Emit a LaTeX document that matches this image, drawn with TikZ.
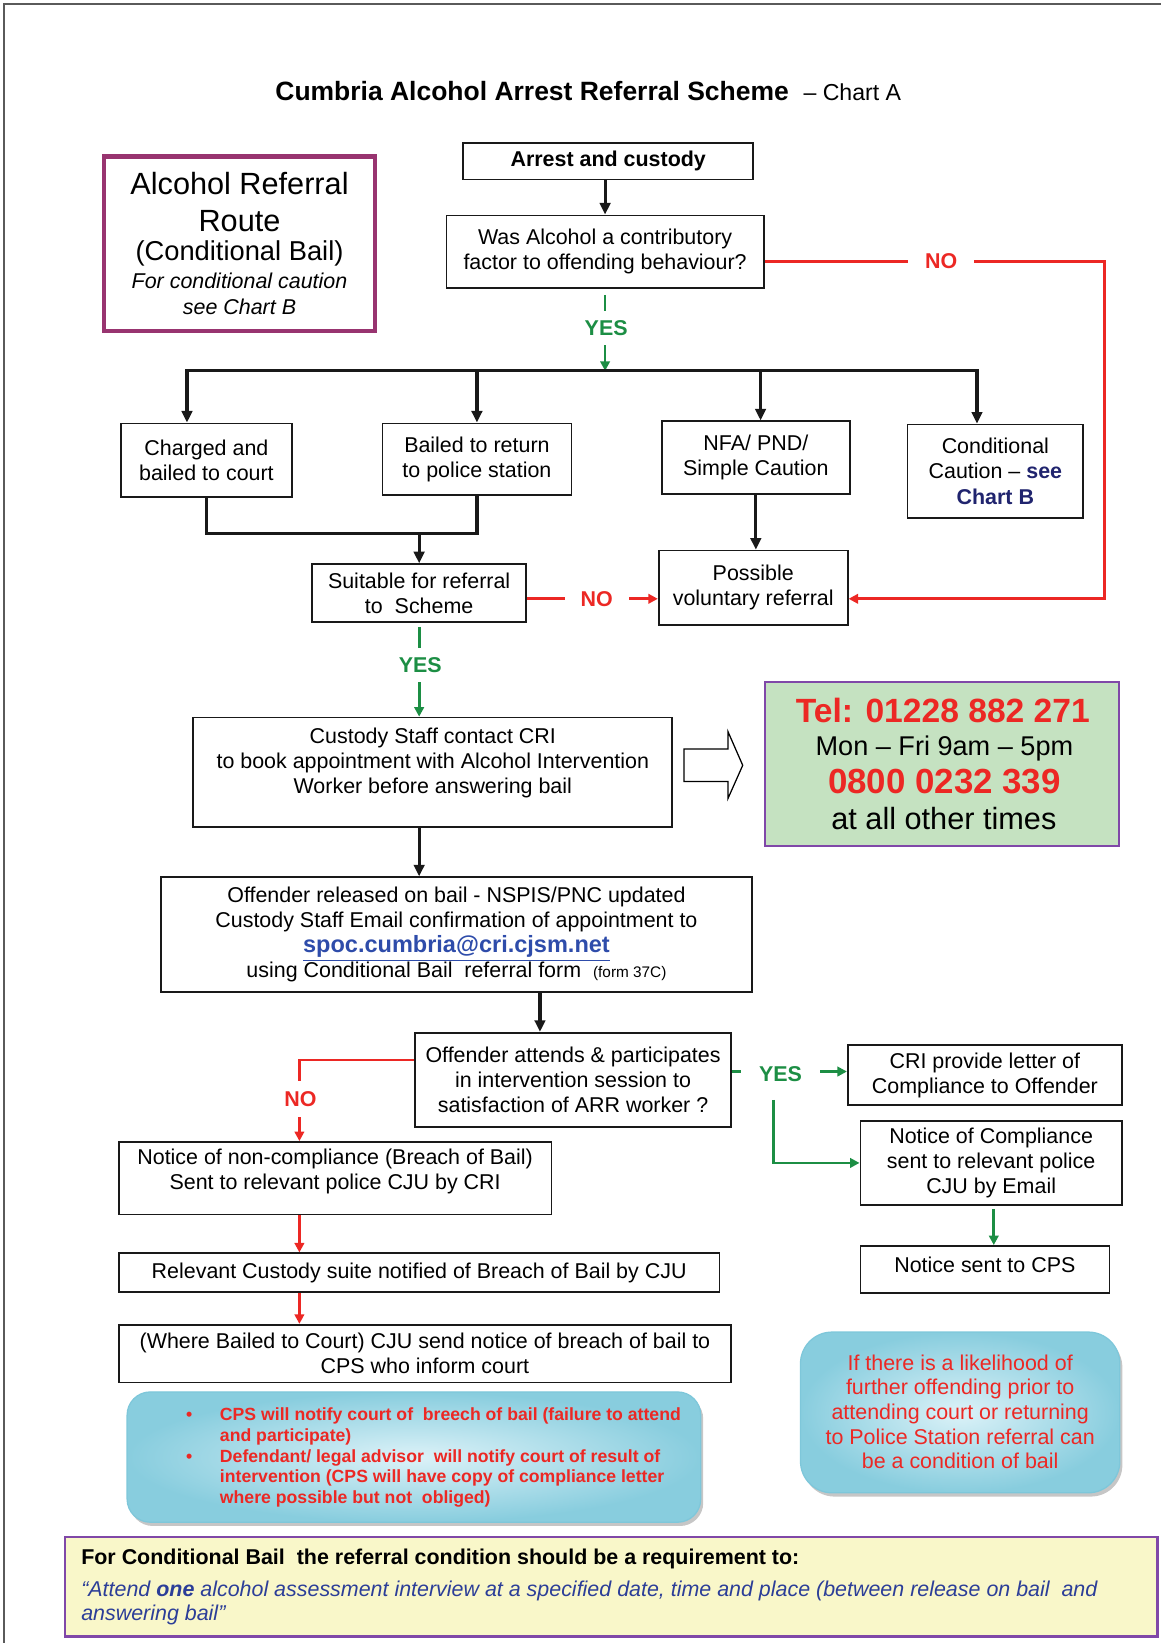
\documentclass[tikz,border=0pt]{standalone}
\usepackage{fontspec}
\setmainfont{Liberation Sans}
\usetikzlibrary{arrows.meta,calc,shadows}
\definecolor{rd}{RGB}{236,40,36}
\definecolor{gr}{RGB}{28,142,68}
\definecolor{plum}{RGB}{152,52,112}
\definecolor{vio}{RGB}{128,72,168}
\definecolor{telg}{RGB}{197,226,193}
\definecolor{ylw}{RGB}{249,247,201}
\definecolor{navy}{RGB}{32,36,110}
\definecolor{lnk}{RGB}{46,76,170}
\definecolor{itb}{RGB}{44,62,152}
\definecolor{cyA}{RGB}{220,242,248}
\definecolor{cyB}{RGB}{136,205,222}
\definecolor{cyD}{RGB}{126,199,218}
\definecolor{frm}{RGB}{90,90,90}
\newcommand\fsz[2]{\fontsize{#1}{#2}\selectfont}
\tikzset{
  bx/.style 2 args={draw=black!90, line width=0.8pt, minimum width=#1*0.5pt, minimum height=#2*0.5pt, inner sep=0pt, align=center, font=\fsz{10.2}{12}},
  txt/.style={inner sep=0pt, align=center, font=\fsz{10.2}{12}},
  conn/.style={line width=1.5pt, black!90},
  arr/.style={conn, -{Triangle[length=5.5pt,width=5pt]}},
  rline/.style={line width=1.4pt, rd},
  rarr/.style={rline, -{Triangle[length=4.5pt,width=4.5pt]}},
  gline/.style={line width=1.3pt, gr},
  garr/.style={gline, -{Triangle[length=4.5pt,width=4.5pt]}},
  lab/.style={inner sep=0pt, fill=white, font=\bfseries\fsz{10.2}{12}},
  bluebox/.style={draw=cyD, line width=0.6pt, inner sep=0pt, inner color=cyA, outer color=cyB, drop shadow={shadow xshift=1.2pt, shadow yshift=-1.8pt, opacity=0.45}},
  redline/.style={anchor=base west, inner sep=0pt, text=rd, font=\bfseries\fsz{8.4}{10}},
}
\begin{document}
\begin{tikzpicture}[x=0.5pt,y=-0.5pt]
\useasboundingbox (0,0) rectangle (1105,1564);
\draw[line width=1pt, frm] (4,1564) -- (4,4) -- (1105,4);

% title
\node[inner sep=0pt, anchor=base] (title) at (560,96) {\fsz{12.6}{15}\bfseries Cumbria Alcohol Arrest Referral Scheme\hspace{7pt}\mdseries\fsz{11}{13}– Chart A};

% route box
\node[bx={258}{166}, draw=plum, line width=2pt] (route) at (228,232) {};
\node[txt, anchor=base, font=\fsz{14.6}{17}] (rt1) at (228,185) {Alcohol Referral};
\node[txt, anchor=base, font=\fsz{14.6}{17}] (rt2) at (228,220) {Route};
\node[txt, anchor=base, font=\fsz{13}{15}] (rt3) at (228,248) {(Conditional Bail)};
\node[txt, anchor=base, font=\itshape\fsz{10.2}{12}] (rt4) at (228,275) {For conditional caution};
\node[txt, anchor=base, font=\itshape\fsz{10.2}{12}] (rt5) at (228,299) {see Chart B};

% main boxes
\node[bx={276}{35}, font=\bfseries\fsz{10.2}{12}] (arrest) at (579,153.5) {Arrest and custody};
\node[bx={302}{69}] (q) at (576,239.5) {Was Alcohol a contributory\\factor to offending behaviour?};
\coordinate (busL) at (178,353);
\coordinate (bus2) at (454,353);
\coordinate (busM) at (576,353);
\coordinate (bus3) at (724,353);
\coordinate (busR) at (930,353);
\coordinate (rc) at (1051,570);
\coordinate (jn) at (399,508);
\coordinate (x514) at (514,0);
\coordinate (x285) at (285,0);
\coordinate (ybr) at (736,1047);
\node[bx={163}{70}] (charged) at (196.5,438) {Charged and\\bailed to court};
\node[bx={180}{68}] (bailed) at (454,437) {Bailed to return\\to police station};
\node[bx={179}{69}] (nfa) at (719.5,435.5) {NFA/ PND/\\Simple Caution};
\node[bx={167}{89}] (cc) at (947.5,448.5) {Conditional\\Caution – {\bfseries\color{navy}see}\\{\bfseries\color{navy}Chart B}};
\node[bx={204}{55}] (suit) at (399,564.5) {Suitable for referral\\to\ \ Scheme};
\node[bx={180}{71}] (poss) at (717,559.5) {Possible\\voluntary referral};
\node[bx={456}{104}] (cust) at (412,735) {};
\node[txt] (custT) at (412,726) {Custody Staff contact CRI\\to book appointment with Alcohol Intervention\\Worker before answering bail};

% tel box
\node[bx={337}{156}, draw=vio, fill=telg] (tel) at (896.5,727) {};
\node[txt, anchor=base, text=rd, font=\bfseries\fsz{16}{18}] (tel1) at (897.5,688) {Tel: 01228 882 271};
\node[txt, anchor=base, font=\fsz{12.9}{15}] (tel2) at (899,719) {Mon – Fri 9am – 5pm};
\node[txt, anchor=base, text=rd, font=\bfseries\fsz{16.6}{18}] (tel3) at (899,755) {0800 0232 339};
\node[txt, anchor=base, font=\fsz{14.6}{17}] (tel4) at (898.5,790) {at all other times};

% hollow block arrow
\draw[line width=0.6pt] (651,713) -- (693,713) -- (693,696.5) -- (707,728.5) -- (693,760) -- (693,744) -- (651,744) -- cycle;

\node[bx={563}{109}] (rel) at (434.5,889.5) {Offender released on bail - NSPIS/PNC updated\\Custody Staff Email confirmation of appointment to\\{\bfseries\fsz{11.2}{12}\color{lnk}\underline{spoc.cumbria@cri.cjsm.net}}\\using Conditional Bail\ \ referral form\ \ {\fsz{7.3}{12}(form 37C)}};
\node[bx={301}{90}] (att) at (545.5,1028) {Offender attends \& participates\\in intervention session to\\satisfaction of ARR worker ?};
\node[bx={261}{57}] (cri) at (937.5,1023.5) {CRI provide letter of\\Compliance to Offender};
\node[bx={249}{80}] (comp) at (943.5,1107) {Notice of Compliance\\sent to relevant police\\CJU by Email};
\node[bx={237}{45}] (cps) at (937.5,1208.5) {};
\node[txt] (cpsT) at (937.5,1204) {Notice sent to CPS};
\node[bx={412}{69}] (ncomp) at (319,1121.5) {};
\node[txt] (ncompT) at (319,1115) {Notice of non-compliance (Breach of Bail)\\Sent to relevant police CJU by CRI};
\node[bx={572}{37}] (relv) at (399,1211.5) {Relevant Custody suite notified of Breach of Bail by CJU};
\node[bx={583}{55}] (where) at (404.5,1288.5) {(Where Bailed to Court) CJU send notice of breach of bail to\\CPS who inform court};

% blue boxes
\node[bluebox, rounded corners=11pt, minimum width=546*0.5pt, minimum height=124*0.5pt] (b1) at (394,1387) {};
\node[redline] (b1l1) at (209,1352) {CPS will notify court of\ \ breech of bail (failure to attend};
\node[redline] (b1l2) at (209,1372) {and participate)};
\node[redline] (b1l3) at (209,1392) {Defendant/ legal advisor\ \ will notify court of result of};
\node[redline] (b1l4) at (209,1411.5) {intervention (CPS will have copy of compliance letter};
\node[redline] (b1l5) at (209,1431) {where possible but not\ \ obliged)};
\node[redline, anchor=base] (bul1) at (180,1352) {•};
\node[redline, anchor=base] (bul2) at (180,1392) {•};

\node[bluebox, rounded corners=15pt, minimum width=304*0.5pt, minimum height=153*0.5pt] (b2) at (914,1344.5) {};
\node[txt, text=rd, font=\fsz{10.2}{11.75}] (b2t) at (914,1344) {If there is a likelihood of\\further offending prior to\\attending court or returning\\to Police Station referral can\\be a condition of bail};

% yellow box
\node[draw=vio, line width=1.2pt, fill=ylw, minimum width=1040*0.5pt, minimum height=95*0.5pt, inner sep=0pt] (yel) at (582,1510.5) {};
\node[anchor=base west, inner sep=0pt, font=\bfseries\fsz{10.2}{12}] (y1) at (77,1489) {For Conditional Bail\ \ the referral condition should be a requirement to:};
\node[anchor=base west, inner sep=0pt, text=itb, font=\itshape\fsz{10.2}{12}] (y2) at (77,1520) {“Attend \textbf{one} alcohol assessment interview at a specified date, time and place (between release on bail\ \ and};
\node[anchor=base west, inner sep=0pt, text=itb, font=\itshape\fsz{10.2}{12}] (y3) at (77,1543) {answering bail”};

% connectors
\draw[arr] (arrest.south -| q.north) -- (q.north);
\draw[rarr] ($(q.east)+(0,9.5)$) -| (rc) -- ($(poss.east)+(0,10.5)$);
\draw[garr] ($(q.south)+(0,6)$) -- (busM);
\draw[conn, line cap=rect] (busL) -- (busR);
\draw[arr] (busL) -- (busL |- charged.north);
\draw[arr] (bus2) -- (bus2 |- bailed.north);
\draw[arr] (bus3) -- (bus3 |- nfa.north);
\draw[arr] (busR) -- (busR |- cc.north);
\draw[conn] (charged.south) |- (jn) -| (bailed.south);
\draw[arr] (jn) -- (suit.north);
\draw[rarr] ($(suit.east)+(0,5.5)$) -- ($(poss.west)+(0,10.5)$);
\draw[arr] (nfa.south) -- (nfa.south |- poss.north);
\draw[garr] ($(suit.south)+(0,4)$) -- (suit.south |- cust.north);
\draw[arr] (cust.south -| suit.south) -- (rel.north -| suit.south);
\draw[arr] (rel.south -| x514) -- (att.north -| x514);
\draw[rarr] ($(att.west)+(0,-19)$) -| (ncomp.north -| x285);
\draw[garr] ($(att.east)+(0,-8)$) -- ($(cri.west)+(0,-3.5)$);
\draw[garr] (ybr) |- (comp.west);
\draw[garr] ($(comp.south)+(2.5,3)$) -- ($(cps.north)+(8.5,0)$);
\draw[rarr] (ncomp.south -| x285) -- (relv.north -| x285);
\draw[rarr] (relv.south -| x285) -- (where.north -| x285);

% labels on connectors
\node[lab, text=rd, inner xsep=8pt, inner ysep=2pt] (no1) at (896,249) {NO};
\node[lab, text=gr, inner xsep=1pt, inner ysep=4.5pt] (yes1) at (577,312) {YES};
\node[lab, text=rd, inner xsep=7.5pt, inner ysep=2pt] (no2) at (568,570) {NO};
\node[lab, text=gr, inner xsep=1pt, inner ysep=4.5pt] (yes2) at (400,633) {YES};
\node[lab, text=rd, inner xsep=1pt, inner ysep=5pt] (no3) at (286,1046) {NO};
\node[lab, text=gr, inner xsep=8.5pt, inner ysep=2pt] (yes3) at (743,1022) {YES};
\end{tikzpicture}
\end{document}
